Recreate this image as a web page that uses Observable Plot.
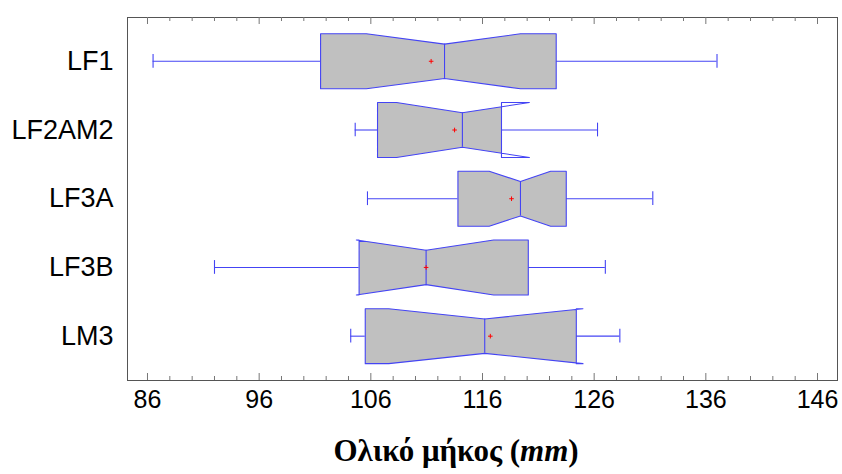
<!DOCTYPE html>
<html>
<head>
<meta charset="utf-8">
<script src="https://cdn.jsdelivr.net/npm/d3@7"></script>
<script src="https://cdn.jsdelivr.net/npm/@observablehq/plot@0.6"></script>
<style>
  html, body { margin: 0; padding: 0; background: #fff; }
</style>
</head>
<body>
<div id="chart"></div>
<script>
// ---- data ----
const groups      = ["LF1", "LF2AM2", "LF3A", "LF3B", "LM3"];
const whiskerLow  = [86.5, 104.6, 105.7, 92.0, 104.2];
const q1          = [101.5, 106.6, 113.8, 104.95, 105.5];
const notchLow    = [105.6, 108.3, 116.6, 104.7, 107.6];
const median      = [112.6, 114.2, 119.4, 110.95, 116.2];
const notchHigh   = [119.4, 120.2, 122.1, 117.0, 125.0];
const q3          = [122.6, 117.7, 123.5, 120.1, 124.4];
const whiskerHigh = [137.0, 126.3, 131.25, 127.0, 128.3];
const mean        = [111.4, 113.5, 118.6, 110.95, 116.7];
const majorTicks  = [86, 96, 106, 116, 126, 136, 146];
const minorTicks  = d3.range(86, 148, 2).filter(v => !majorTicks.includes(v));

// ---- derived table ----
const rows = groups.map((g, i) => ({
  g, i, wlo: whiskerLow[i], q1: q1[i], nlo: notchLow[i], med: median[i],
  nhi: notchHigh[i], q3: q3[i], whi: whiskerHigh[i], mean: mean[i]
}));

const H = 0.4;   // half box height (band units)
const N = 0.25;  // half notch height at median

function halfAt(r, x) {
  if (x <= r.med) {
    if (x <= r.nlo) return H;
    return N + (H - N) * (r.med - x) / (r.med - r.nlo);
  } else {
    if (x >= r.nhi) return H;
    return N + (H - N) * (x - r.med) / (r.nhi - r.med);
  }
}

const outline = [];
const fillPts = [];
for (const r of rows) {
  const c = r.i;
  [[r.q1, -H], [r.nlo, -H], [r.med, -N], [r.nhi, -H], [r.q3, -H],
   [r.q3, H], [r.nhi, H], [r.med, N], [r.nlo, H], [r.q1, H]]
    .forEach(([x, d]) => outline.push({g: r.g, x, y: c + d}));
  const top = [[r.q1, halfAt(r, r.q1)]];
  if (r.nlo > r.q1) top.push([r.nlo, H]);
  top.push([r.med, N]);
  if (r.nhi < r.q3) top.push([r.nhi, H]);
  top.push([r.q3, halfAt(r, r.q3)]);
  top.forEach(([x, d]) => fillPts.push({g: r.g, x, y: c - d}));
  top.slice().reverse().forEach(([x, d]) => fillPts.push({g: r.g, x, y: c + d}));
}

const blue = "#4444f4";
const frameH = 380 - 17;

const plot = Plot.plot({
  width: 842,
  height: 474,
  marginLeft: 127,
  marginRight: 5,
  marginTop: 17,
  marginBottom: 94,
  style: { fontFamily: "Liberation Sans, Arial, sans-serif", fontSize: "25px", background: "#fff", color: "#000" },
  x: { domain: [84.21, 147.79], ticks: majorTicks, label: null },
  y: { domain: [4.645, -0.637], ticks: [0, 1, 2, 3, 4], label: null },
  marks: [
    Plot.ruleY(rows, { y: "i", x1: "wlo", x2: "q1", stroke: blue, strokeWidth: 1.1 }),
    Plot.ruleY(rows, { y: "i", x1: "q3", x2: "whi", stroke: blue, strokeWidth: 1.1 }),
    Plot.ruleX(rows, { x: "wlo", y1: d => d.i - 0.1, y2: d => d.i + 0.1, stroke: blue, strokeWidth: 1.1 }),
    Plot.ruleX(rows, { x: "whi", y1: d => d.i - 0.1, y2: d => d.i + 0.1, stroke: blue, strokeWidth: 1.1 }),
    Plot.line(fillPts, { x: "x", y: "y", z: "g", curve: "linear-closed", fill: "#c0c0c0", stroke: "none" }),
    Plot.line(outline, { x: "x", y: "y", z: "g", curve: "linear-closed", fill: "none", stroke: blue, strokeWidth: 1.1 }),
    Plot.ruleX(rows, { x: "med", y1: d => d.i - N, y2: d => d.i + N, stroke: blue, strokeWidth: 1.1 }),
    Plot.dot(rows, { x: "mean", y: "i", symbol: "plus", r: 1.6, stroke: "red", strokeWidth: 1 }),
    Plot.frame({ stroke: "#555", strokeWidth: 1 }),
    Plot.ruleX(majorTicks, { x: d => d, insetBottom: frameH - 7, stroke: "#777" }),
    Plot.ruleX(minorTicks, { x: d => d, insetBottom: frameH - 4, stroke: "#777" }),
    Plot.ruleX(majorTicks, { x: d => d, insetTop: frameH - 7, stroke: "#777" }),
    Plot.ruleX(minorTicks, { x: d => d, insetTop: frameH - 4, stroke: "#777" }),
    Plot.axisX({ anchor: "bottom", ticks: majorTicks, tickSize: 0, tickPadding: 10, label: null, tickFormat: d => String(d) }),
    Plot.axisY({ anchor: "left", ticks: [0, 1, 2, 3, 4], tickSize: 0, tickPadding: 14, label: null, tickFormat: i => groups[i], fontSize: 27 })
  ]
});

const svg = d3.select(plot);
const t = svg.append("text")
  .attr("x", 456).attr("y", 461)
  .attr("text-anchor", "middle")
  .attr("font-family", "Liberation Serif, Times New Roman, serif")
  .attr("font-weight", "bold")
  .attr("font-size", 31)
  .attr("fill", "#000");
t.append("tspan").text("Ολικό μήκος (");
t.append("tspan").attr("font-style", "italic").text("mm");
t.append("tspan").text(")");

document.getElementById("chart").appendChild(plot);
</script>
</body>
</html>
